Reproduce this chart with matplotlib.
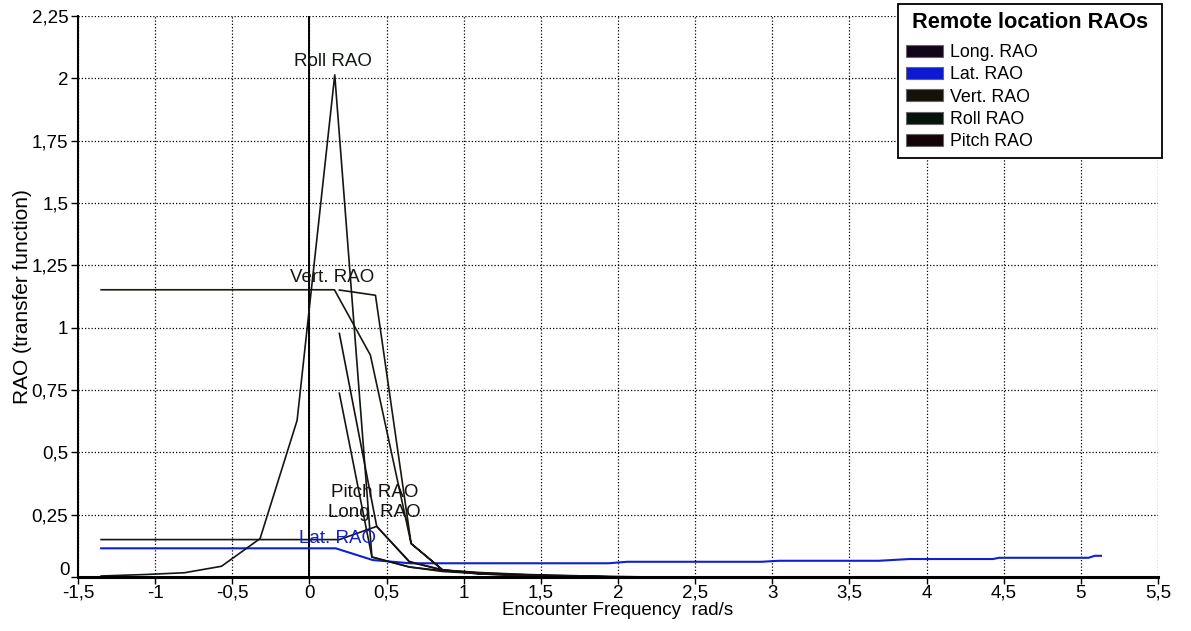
import numpy as np
import matplotlib
matplotlib.use("Agg")
import matplotlib.pyplot as plt
from matplotlib.patches import Patch
from matplotlib.ticker import FuncFormatter, MultipleLocator

plt.rcParams['font.family'] = ['Liberation Sans', 'DejaVu Sans']

# RAO curves vs encounter frequency (rad/s); NaN splits a series into segments
long_x = [-1.35, 0.194, 0.436, 0.648, 0.864, 1.1, 1.4, 1.8, 2.2, np.nan,
          0.194, 0.405, 0.648, 0.864, 1.2, 1.6, 2.0]
long_y = [0.150, 0.150, 0.203, 0.062, 0.028, 0.018, 0.010, 0.004, 0.0, np.nan,
          0.737, 0.080, 0.040, 0.022, 0.010, 0.004, 0.0]

lat_x = [-1.35, 0.17, 0.41, 0.65, 1.94, 2.06, 2.93, 3.04, 3.69, 3.89, 4.43, 4.47,
         5.05, 5.09, 5.13]
lat_y = [0.115, 0.115, 0.068, 0.055, 0.055, 0.061, 0.061, 0.065, 0.065, 0.072,
         0.072, 0.077, 0.077, 0.085, 0.085]

vert_x = [-1.35, 0.162, 0.395, 0.659, 0.864, 1.1, 1.4, 1.8, np.nan,
          0.194, 0.428, 0.659, 0.864, 1.1, 1.5, 2.0]
vert_y = [1.152, 1.152, 0.890, 0.134, 0.028, 0.014, 0.006, 0.0, np.nan,
          1.151, 1.130, 0.134, 0.028, 0.012, 0.005, 0.0]

roll_x = [-1.35, -1.06, -0.81, -0.57, -0.32, -0.08, 0.164, 0.405, 0.648, 0.864,
          1.2, 1.6, 2.0]
roll_y = [0.004, 0.010, 0.017, 0.043, 0.154, 0.628, 2.014, 0.080, 0.040, 0.025,
          0.012, 0.004, 0.0]

pitch_x = [0.194, 0.436, 0.648, 0.864, 1.1, 1.5, 2.0]
pitch_y = [0.977, 0.203, 0.060, 0.028, 0.016, 0.007, 0.0]

names = ["Long. RAO", "Lat. RAO", "Vert. RAO", "Roll RAO", "Pitch RAO"]
line_colors = ["#141414", "#1020d0", "#181810", "#101810", "#181010"]
patch_colors = ["#12051a", "#0a1ad2", "#14120a", "#04140a", "#140408"]

# where each curve's name is written
label_pos = {"Roll RAO": (0.155, 2.066), "Vert. RAO": (0.15, 1.203),
             "Pitch RAO": (0.42, 0.337), "Long. RAO": (0.42, 0.257),
             "Lat. RAO": (0.18, 0.156)}

fig = plt.figure(figsize=(11.91, 6.31), dpi=100)
ax = fig.add_axes([0.0655, 0.0856, 0.9068, 0.889])

series = [(long_x, long_y), (lat_x, lat_y), (vert_x, vert_y),
          (roll_x, roll_y), (pitch_x, pitch_y)]
for (xs, ys), name, c in zip(series, names, line_colors):
    lw = 1.5 if name == "Lat. RAO" else 1.2
    ax.plot(xs, ys, color=c, lw=lw, zorder=3)
    tx, ty = label_pos[name]
    ax.text(tx, ty, name, ha='center', va='center', fontsize=13.5,
            color=c, zorder=4)

ax.axvline(0, color='black', lw=1.4, zorder=2)

ax.set_xlim(-1.5, 5.5)
ax.set_ylim(0, 2.25)
ax.xaxis.set_major_locator(MultipleLocator(0.5))
ax.yaxis.set_major_locator(MultipleLocator(0.25))
comma = FuncFormatter(lambda v, p: ("%g" % v).replace(".", ","))
# y zero is written separately, a bit higher, so it clears the "-1,5"
comma_y = FuncFormatter(lambda v, p: "" if v == 0 else ("%g" % v).replace(".", ","))
ax.xaxis.set_major_formatter(comma)
ax.yaxis.set_major_formatter(comma_y)
ax.tick_params(direction='out', length=5, width=1, labelsize=13.5,
               colors='black', pad=2)
ax.tick_params(axis='x', pad=0.5)
ax.annotate("0", xy=(0, 0), xycoords='axes fraction', xytext=(-6, 5),
            textcoords='offset points', ha='right', va='center', fontsize=13.5)

ax.grid(True, color='black', linestyle=(0, (1, 1.6)), lw=0.9)
ax.set_axisbelow(True)
for side in ['top', 'right']:
    ax.spines[side].set_visible(False)
ax.spines['left'].set_linewidth(1.5)
ax.spines['bottom'].set_linewidth(2.2)
ax.spines['bottom'].set_zorder(5)

ax.set_xlabel("Encounter Frequency  rad/s", fontsize=13.5, labelpad=0.5)
ax.set_ylabel("RAO (transfer function)", fontsize=15, labelpad=0)

handles = [Patch(facecolor=c, edgecolor='#666666', lw=0.8) for c in patch_colors]
leg = fig.legend(handles, names, loc='upper left',
                 bbox_to_anchor=(0.754, 0.994), bbox_transform=fig.transFigure,
                 title=" Remote location RAOs ", fontsize=12.8,
                 title_fontproperties={'weight': 'bold', 'size': 15.7},
                 handlelength=2.1, handleheight=0.65, handletextpad=0.4,
                 labelspacing=0.3, borderpad=0.45, borderaxespad=0,
                 fancybox=False, framealpha=1, edgecolor='black')
leg.get_frame().set_linewidth(1.3)
leg._legend_box.align = "left"
leg._legend_box.sep = 8

fig.savefig("out.png", dpi=100)
